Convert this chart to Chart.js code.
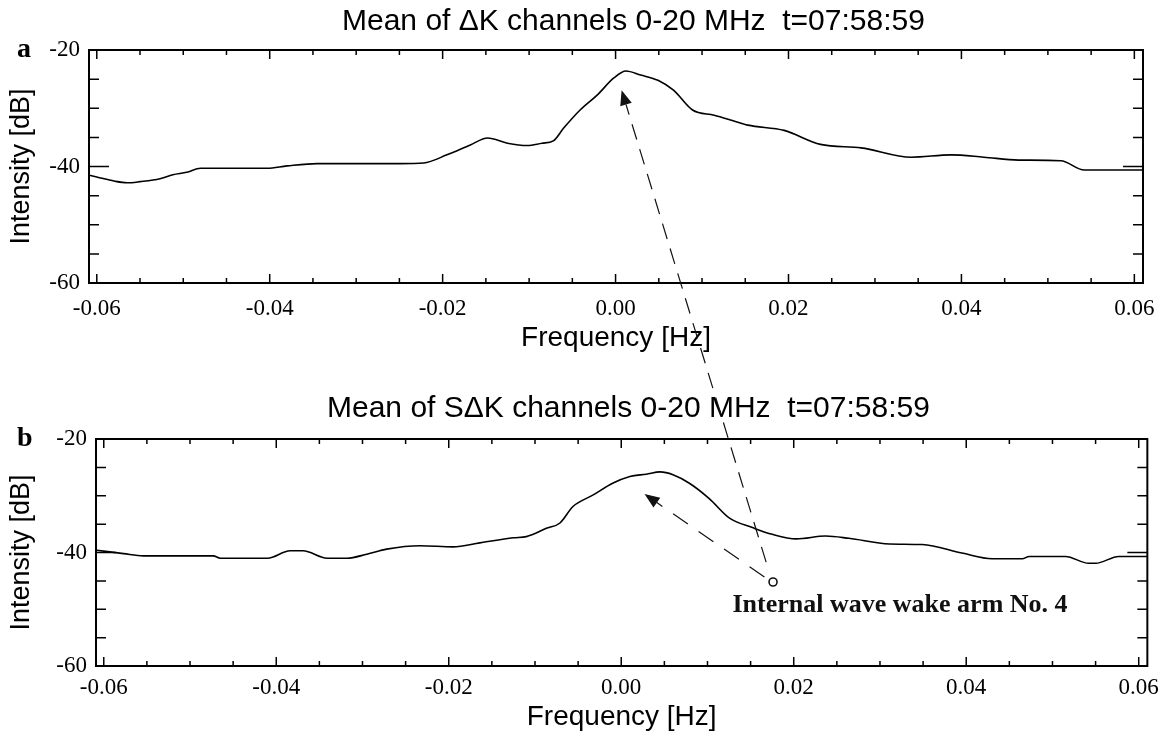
<!DOCTYPE html>
<html>
<head>
<meta charset="utf-8">
<script src="https://cdn.jsdelivr.net/npm/chart.js@4.4.1/dist/chart.umd.min.js"></script>
<style>
  html, body { margin: 0; padding: 0; background: #fff; }
  #wrap { position: relative; width: 1167px; height: 734px; }
  canvas { position: absolute; left: 0; }
</style>
</head>
<body>
<div id="wrap">
  <canvas id="chartA" width="1167" height="370" style="top:0"></canvas>
  <canvas id="chartB" width="1167" height="364" style="top:370px"></canvas>
  <canvas id="overlay" width="1167" height="734" style="top:0;pointer-events:none"></canvas>
</div>
<script>
/* Mean intensity spectra, panels a and b */
const freqA = [-0.0609, -0.060, -0.058, -0.0565, -0.055, -0.0527, -0.0512, -0.0496, -0.048, -0.044,
  -0.0403, -0.038, -0.0345, -0.030, -0.0249, -0.0222, -0.0195, -0.0168, -0.0148, -0.0125,
  -0.0102, -0.0085, -0.0072, -0.006, -0.0041, -0.0021, -0.0002, 0.0012, 0.0029, 0.0049,
  0.0067, 0.0089, 0.0114, 0.0135, 0.0153, 0.0195, 0.0237, 0.0284, 0.0342, 0.0388,
  0.0426, 0.0466, 0.0515, 0.0542, 0.061];
const intensityA = [-41.5, -41.8, -42.5, -42.8, -42.6, -42.1, -41.4, -41.0, -40.3, -40.3,
  -40.3, -39.9, -39.5, -39.5, -39.5, -39.4, -38.0, -36.3, -35.1, -36.0,
  -36.4, -36.0, -35.6, -33.4, -30.3, -27.7, -24.8, -23.6, -24.3, -25.2,
  -26.9, -30.3, -31.2, -32.1, -32.9, -33.8, -36.2, -36.8, -38.4, -38.0,
  -38.4, -38.9, -39.0, -40.6, -40.6];

const freqB = [-0.0608, -0.0577, -0.0554, -0.0473, -0.0465, -0.041, -0.0384, -0.0369, -0.0341, -0.0318,
  -0.0295, -0.0272, -0.0233, -0.0195, -0.0164, -0.0125, -0.011, -0.0086, -0.0071, -0.0056,
  -0.0033, -0.001, 0.001, 0.0029, 0.0045, 0.006, 0.0079, 0.0102, 0.0126, 0.0152,
  0.0175, 0.0203, 0.0237, 0.0264, 0.0311, 0.0349, 0.0395, 0.043, 0.0465, 0.0473,
  0.0515, 0.0542, 0.055, 0.0577, 0.061];
const intensityB = [-39.6, -40.2, -40.6, -40.6, -41.0, -41.0, -39.7, -39.7, -41.0, -41.0,
  -40.3, -39.4, -38.8, -39.0, -38.3, -37.4, -37.2, -35.7, -34.8, -31.9,
  -29.9, -27.8, -26.6, -26.2, -25.8, -26.3, -27.8, -30.5, -34.0, -35.6,
  -36.8, -37.6, -37.1, -37.5, -38.5, -38.6, -40.1, -41.1, -41.1, -40.7,
  -40.7, -41.9, -41.9, -40.7, -40.7];

const xTicks = [-0.06, -0.04, -0.02, 0, 0.02, 0.04, 0.06];
const yTicks = [-60, -40, -20];
const titleA = 'Mean of \u0394K channels 0-20 MHz  t=07:58:59';
const titleB = 'Mean of S\u0394K channels 0-20 MHz  t=07:58:59';

// inward ticks on all four sides, plus panel title and letter
const framePlugin = {
  id: 'frame',
  afterDraw(chart, args, opts) {
    const { ctx, chartArea: a, scales: { x, y } } = chart;
    ctx.save();
    ctx.strokeStyle = '#000';
    ctx.lineWidth = 2;
    ctx.strokeRect(a.left, a.top, a.right - a.left, a.bottom - a.top);
    ctx.lineWidth = 1.5;
    ctx.beginPath();
    for (let i = -12; i <= 12; i++) {
      const px = x.getPixelForValue(i * 0.005);
      const len = i % 4 === 0 ? 9 : 5;
      ctx.moveTo(px, a.bottom); ctx.lineTo(px, a.bottom - len);
      ctx.moveTo(px, a.top); ctx.lineTo(px, a.top + len);
    }
    for (let v = -55; v <= -25; v += 5) {
      const py = y.getPixelForValue(v);
      const len = v === -40 ? 20 : 10;
      ctx.moveTo(a.left, py); ctx.lineTo(a.left + len, py);
      ctx.moveTo(a.right, py); ctx.lineTo(a.right - len, py);
    }
    ctx.stroke();

    ctx.fillStyle = '#000';
    ctx.textBaseline = 'middle';
    ctx.textAlign = 'left';
    ctx.font = '30px "Liberation Sans", Arial, sans-serif';
    ctx.fillText(opts.title, opts.titleX, opts.titleY);
    ctx.font = 'bold 28px "Liberation Serif", "Times New Roman", serif';
    ctx.fillText(opts.letter, 17, a.top);
    ctx.restore();
  }
};

function makeChart(id, freq, vals, o) {
  return new Chart(document.getElementById(id), {
    type: 'line',
    data: {
      datasets: [{
        data: freq.map((f, i) => ({ x: f, y: vals[i] })),
        borderColor: '#000',
        borderWidth: 1.6,
        pointRadius: 0,
        cubicInterpolationMode: 'monotone'
      }]
    },
    options: {
      responsive: false,
      animation: false,
      layout: { padding: { left: 0, right: o.right, top: o.top, bottom: 0 } },
      plugins: {
        legend: { display: false },
        tooltip: { enabled: false },
        frame: { title: o.title, titleX: o.titleX, titleY: o.titleY, letter: o.letter }
      },
      scales: {
        x: {
          type: 'linear',
          min: -0.0609,
          max: 0.061,
          grid: { display: false, drawTicks: false },
          border: { display: false },
          afterBuildTicks: s => { s.ticks = xTicks.map(v => ({ value: v })); },
          afterFit: s => { s.height = o.xh; },
          ticks: {
            padding: o.xpad,
            color: '#000',
            maxRotation: 0,
            font: { family: '"Liberation Serif", "Times New Roman", serif', size: 23 },
            callback: v => v.toFixed(2)
          },
          title: {
            display: true,
            text: 'Frequency [Hz]',
            color: '#000',
            padding: { top: 0, bottom: o.xtpad },
            font: { family: '"Liberation Sans", Arial, sans-serif', size: 28 }
          }
        },
        y: {
          min: -60,
          max: -20,
          grid: { display: false, drawTicks: false },
          border: { display: false },
          afterBuildTicks: s => { s.ticks = yTicks.map(v => ({ value: v })); },
          afterFit: s => { s.width = o.yw; },
          ticks: {
            padding: 9,
            color: '#000',
            font: { family: '"Liberation Serif", "Times New Roman", serif', size: 23 }
          },
          title: {
            display: true,
            text: 'Intensity [dB]',
            color: '#000',
            padding: { top: 5, bottom: 0 },
            font: { family: '"Liberation Sans", Arial, sans-serif', size: 27 }
          }
        }
      }
    },
    plugins: [framePlugin]
  });
}

const chartA = makeChart('chartA', freqA, intensityA, {
  right: 24, top: 50, yw: 89, xh: 87, xpad: 12, xtpad: 15,
  title: titleA, titleX: 342, titleY: 22, letter: 'a'
});
const chartB = makeChart('chartB', freqB, intensityB, {
  right: 19, top: 69, yw: 96, xh: 68, xpad: 8, xtpad: 0,
  title: titleB, titleX: 327, titleY: 39, letter: 'b'
});

// annotation arrows spanning both panels
const offB = 370;
function pxA(f, v) { return [chartA.scales.x.getPixelForValue(f), chartA.scales.y.getPixelForValue(v)]; }
function pxB(f, v) { return [chartB.scales.x.getPixelForValue(f), chartB.scales.y.getPixelForValue(v) + offB]; }

function arrow(ctx, from, to, dash) {
  const dx = to[0] - from[0], dy = to[1] - from[1];
  const L = Math.hypot(dx, dy), ux = dx / L, uy = dy / L;
  const head = 15, hw = 6;
  const bx = to[0] - ux * head, by = to[1] - uy * head;
  ctx.setLineDash(dash);
  ctx.beginPath();
  ctx.moveTo(from[0], from[1]);
  ctx.lineTo(bx, by);
  ctx.stroke();
  ctx.setLineDash([]);
  ctx.beginPath();
  ctx.moveTo(to[0], to[1]);
  ctx.lineTo(bx - uy * hw, by + ux * hw);
  ctx.lineTo(bx + uy * hw, by - ux * hw);
  ctx.closePath();
  ctx.fill();
}

const octx = document.getElementById('overlay').getContext('2d');
octx.strokeStyle = '#111';
octx.fillStyle = '#111';
octx.lineWidth = 1.2;
arrow(octx, pxB(0.0168, -41.7), pxA(0.0007, -26.9), [16, 10]);
arrow(octx, pxB(0.0166, -44.3), pxB(0.0027, -29.7), [18, 13]);
const c = pxB(0.0176, -45.2);
octx.lineWidth = 1.6;
octx.beginPath();
octx.arc(c[0], c[1], 4, 0, Math.PI * 2);
octx.stroke();
const t = pxB(0.0129, -50.5);
octx.font = 'bold 26px "Liberation Serif", "Times New Roman", serif';
octx.textBaseline = 'alphabetic';
octx.fillText('Internal wave wake arm No. 4', t[0], t[1]);
</script>
</body>
</html>
